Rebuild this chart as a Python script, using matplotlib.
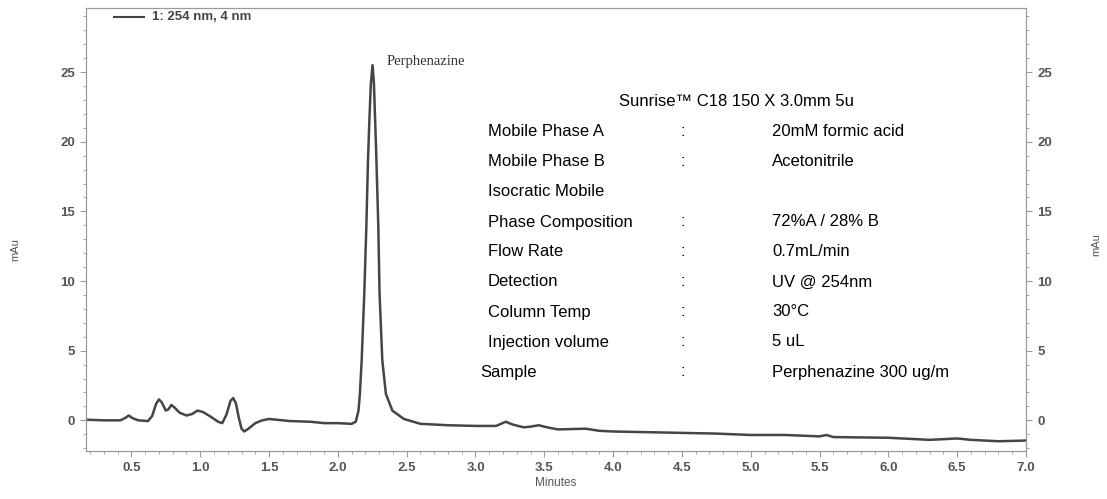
import numpy as np
import matplotlib
matplotlib.use("Agg")
import matplotlib.pyplot as plt
from matplotlib.ticker import MultipleLocator

# chromatogram trace (minutes, mAu)
minutes = [0.17, 0.30, 0.42, 0.46, 0.48, 0.51, 0.55, 0.62, 0.65, 0.68, 0.70, 0.72,
           0.75, 0.77, 0.79, 0.81, 0.85, 0.90, 0.94, 0.98, 1.02, 1.07, 1.13, 1.16,
           1.19, 1.22, 1.24, 1.26, 1.28, 1.30, 1.32, 1.35, 1.40, 1.45, 1.50, 1.55,
           1.65, 1.80, 1.90, 2.00, 2.10, 2.13, 2.15, 2.16, 2.173, 2.192, 2.207,
           2.219, 2.23, 2.24, 2.252, 2.262, 2.278, 2.294, 2.303, 2.323, 2.349,
           2.396, 2.48, 2.60, 2.80, 3.00, 3.15, 3.22, 3.27, 3.35, 3.40, 3.46,
           3.52, 3.60, 3.80, 3.90, 4.00, 4.50, 4.75, 5.00, 5.25, 5.50, 5.55,
           5.60, 6.00, 6.30, 6.50, 6.60, 6.80, 7.00]
mau = [0.05, 0.0, 0.0, 0.2, 0.35, 0.15, 0.0, -0.05, 0.3, 1.2, 1.5, 1.3,
       0.7, 0.8, 1.1, 0.95, 0.55, 0.35, 0.45, 0.7, 0.6, 0.3, -0.1, -0.2,
       0.4, 1.4, 1.6, 1.2, 0.2, -0.6, -0.8, -0.6, -0.2, 0.0, 0.1, 0.05,
       -0.05, -0.1, -0.2, -0.2, -0.25, -0.1, 0.7, 1.9, 4.3, 9.1, 13.9,
       18.7, 21.8, 24.2, 25.5, 24.2, 19.4, 13.9, 9.1, 4.3, 1.9,
       0.7, 0.1, -0.25, -0.35, -0.4, -0.4, -0.1, -0.3, -0.5, -0.45, -0.35,
       -0.5, -0.65, -0.6, -0.75, -0.8, -0.9, -0.95, -1.05, -1.05, -1.15, -1.05,
       -1.2, -1.25, -1.4, -1.3, -1.4, -1.5, -1.45]

x_ticks = [0.5, 1.0, 1.5, 2.0, 2.5, 3.0, 3.5, 4.0, 4.5, 5.0, 5.5, 6.0, 6.5, 7.0]
y_ticks = [0, 5, 10, 15, 20, 25]

conditions = [
    ("Mobile Phase A", ":", "20mM formic acid"),
    ("Mobile Phase B", ":", "Acetonitrile"),
    ("Isocratic Mobile", "", ""),
    ("Phase Composition", ":", "72%A / 28% B"),
    ("Flow Rate", ":", "0.7mL/min"),
    ("Detection", ":", "UV @ 254nm"),
    ("Column Temp", ":", "30\u00b0C"),
    ("Injection volume", ":", "5 uL"),
    ("Sample", ":", "Perphenazine 300 ug/m"),
]
column_title = "Sunrise\u2122 C18 150 X 3.0mm 5u"

plt.rcParams["font.family"] = ["Liberation Sans", "DejaVu Sans"]

W, H = 1107, 499
fig = plt.figure(figsize=(W / 100, H / 100), dpi=100)
ax = fig.add_axes([86 / W, 1 - 451 / H, (1026 - 86) / W, (451 - 8) / H])

ax.plot(minutes, mau, color="#454545", lw=1.8, solid_joinstyle="round")
ax.set_xlim(0.17, 7.0)
ax.set_ylim(-2.2, 29.6)

axis_grey = "#999999"
label_grey = "#555555"
for s in ax.spines.values():
    s.set_color(axis_grey)
    s.set_linewidth(0.8)

ax.set_xticks(x_ticks)
ax.set_xticklabels([f"{v:.1f}" for v in x_ticks])
ax.set_yticks(y_ticks)
ax.xaxis.set_minor_locator(MultipleLocator(0.1))
ax.yaxis.set_minor_locator(MultipleLocator(1))
ax.tick_params(which="major", length=4, color=axis_grey, labelcolor=label_grey,
               labelsize=9.5, pad=4)
ax.tick_params(which="minor", length=2.5, color=axis_grey)
for lab in ax.get_xticklabels() + ax.get_yticklabels():
    lab.set_fontweight("bold")

ax2 = ax.twinx()
ax2.set_ylim(ax.get_ylim())
ax2.set_yticks(y_ticks)
ax2.yaxis.set_minor_locator(MultipleLocator(1))
ax2.tick_params(which="major", length=4, color=axis_grey, labelcolor=label_grey,
                labelsize=9.5, pad=4)
ax2.tick_params(which="minor", length=2.5, color=axis_grey)
for lab in ax2.get_yticklabels():
    lab.set_fontweight("bold")
for s in ax2.spines.values():
    s.set_color(axis_grey)
    s.set_linewidth(0.8)

ax.set_xlabel("Minutes", fontsize=8.5, color=label_grey, labelpad=2)
fig.text(15 / W, 1 - 250 / H, "mAu", rotation=90, fontsize=8, color=label_grey,
         ha="center", va="center")
fig.text(1096 / W, 1 - 245 / H, "mAu", rotation=90, fontsize=8, color=label_grey,
         ha="center", va="center")

# legend entry
fig.add_artist(plt.Line2D([114 / W, 144 / W], [1 - 17 / H, 1 - 17 / H],
                          color="#444444", lw=1.5))
fig.text(152 / W, 1 - 17 / H, "1: 254 nm, 4 nm", fontsize=9.5, fontweight="bold",
         color="#444444", va="center")

# peak name
fig.text(387 / W, 1 - 62 / H, "Perphenazine", fontsize=10.5, color="#333333",
         family=["Liberation Serif", "DejaVu Serif"], va="center")

# method conditions
fig.text(619 / W, 1 - 102 / H, column_title, fontsize=12, color="black", va="center")
for i, (name, sep, val) in enumerate(conditions):
    y = 1 - (132 + 30 * i) / H
    x0 = 480 if name == "Sample" else 488
    fig.text(x0 / W, y, name, fontsize=12, color="black", va="center")
    if sep:
        fig.text(680 / W, y, sep, fontsize=12, color="black", va="center")
    if val:
        fig.text(772 / W, y, val, fontsize=12, color="black", va="center")

fig.savefig("out.png", dpi=100)
